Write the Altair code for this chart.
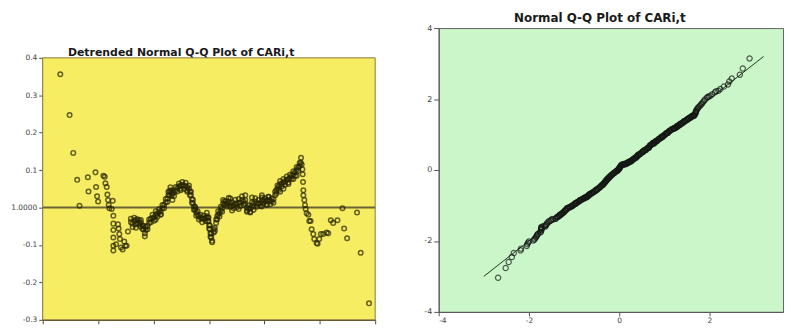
import altair as alt
import pandas as pd

obs_tail_low = [-2.683, -2.515, -2.449, -2.378, -2.336, -2.186, -2.174, -2.048, -2.037, -2.019,
                -2.001, -1.905, -1.881, -1.869, -1.845, -1.833, -1.821, -1.809, -1.797, -1.755,
                -1.737, -1.725, -1.725, -1.725, -1.725, -1.725, -1.725, -1.677, -1.642, -1.630,
                -1.618, -1.606, -1.588, -1.558, -1.528, -1.510, -1.486, -1.462]
dev_tail_low = [0.356, 0.247, 0.146, 0.074, 0.005, 0.081, 0.043, 0.094, 0.055, 0.030,
                0.016, 0.085, 0.082, 0.065, 0.055, 0.035, 0.020, 0.007, -0.002, -0.004,
                0.018, -0.022, -0.043, -0.060, -0.080, -0.102, -0.115, -0.098, -0.045, -0.056,
                -0.071, -0.084, -0.107, -0.112, -0.091, -0.102, -0.102, -0.064]

# centre of the dense band
obs_core = [-1.408, -1.378, -1.348, -1.318, -1.288, -1.259, -1.229, -1.199, -1.181, -1.157,
            -1.139, -1.109, -1.079, -1.049, -1.019, -0.989, -0.959, -0.929, -0.899, -0.870,
            -0.840, -0.810, -0.780, -0.750, -0.732, -0.714, -0.696, -0.678, -0.660, -0.630,
            -0.600, -0.570, -0.540, -0.510, -0.481, -0.451, -0.421, -0.391, -0.361, -0.343,
            -0.325, -0.307, -0.289, -0.271, -0.253, -0.229, -0.205, -0.181, -0.151, -0.122,
            -0.092, -0.062, -0.038, -0.020, -0.008, 0.004, 0.016, 0.028, 0.040, 0.058,
            0.088, 0.106, 0.130, 0.148, 0.166, 0.190, 0.214, 0.238, 0.256, 0.279,
            0.303, 0.327, 0.357, 0.387, 0.417, 0.447, 0.477, 0.507, 0.537, 0.567,
            0.597, 0.627, 0.656, 0.686, 0.716, 0.746, 0.776, 0.806, 0.836, 0.866,
            0.896, 0.926, 0.956, 0.986, 1.016, 1.045, 1.075, 1.105, 1.135, 1.165,
            1.195, 1.213, 1.237, 1.261, 1.285, 1.315, 1.345, 1.375, 1.404, 1.434,
            1.464, 1.494, 1.524, 1.554, 1.584, 1.614, 1.638, 1.656, 1.662]
dev_core = [-0.039, -0.043, -0.036, -0.045, -0.041, -0.035, -0.041, -0.048, -0.058, -0.069,
            -0.060, -0.049, -0.041, -0.030, -0.028, -0.026, -0.019, -0.015, -0.013, -0.009,
            -0.002, 0.007, 0.014, 0.024, 0.033, 0.042, 0.046, 0.040, 0.036, 0.040,
            0.046, 0.052, 0.056, 0.059, 0.060, 0.059, 0.057, 0.055, 0.050, 0.042,
            0.033, 0.022, 0.011, 0.003, -0.006, -0.013, -0.019, -0.023, -0.028, -0.030,
            -0.030, -0.027, -0.023, -0.028, -0.036, -0.047, -0.058, -0.069, -0.080, -0.089,
            -0.067, -0.054, -0.041, -0.023, -0.019, -0.015, -0.008, -0.002, 0.011, 0.016,
            0.007, 0.011, 0.016, 0.011, 0.004, 0.007, 0.011, 0.010, 0.013, 0.013,
            0.020, 0.016, 0.010, 0.001, -0.004, -0.002, 0.004, 0.011, 0.016, 0.011,
            0.010, 0.013, 0.018, 0.020, 0.016, 0.018, 0.020, 0.018, 0.016, 0.022,
            0.033, 0.046, 0.050, 0.056, 0.062, 0.065, 0.067, 0.070, 0.074, 0.076,
            0.079, 0.085, 0.089, 0.094, 0.100, 0.107, 0.111, 0.120, 0.133]

# upper edge of the dense band
obs_band_up = [-1.408, -1.348, -1.288, -1.229, -1.181, -1.139, -1.079, -1.019, -0.959, -0.899,
               -0.840, -0.780, -0.732, -0.696, -0.660, -0.600, -0.540, -0.481, -0.421, -0.361,
               -0.325, -0.289, -0.253, -0.205, -0.151, -0.092, -0.038, -0.008, 0.016, 0.040,
               0.088, 0.130, 0.166, 0.214, 0.256, 0.303, 0.357, 0.417, 0.477, 0.537,
               0.597, 0.656, 0.716, 0.776, 0.836, 0.896, 0.956, 1.016, 1.075, 1.135,
               1.195, 1.237, 1.285, 1.345, 1.404, 1.464, 1.524, 1.584, 1.638]
dev_band_up = [-0.030, -0.027, -0.031, -0.033, -0.049, -0.052, -0.032, -0.019, -0.010, -0.004,
               0.007, 0.023, 0.042, 0.054, 0.045, 0.055, 0.064, 0.068, 0.066, 0.059,
               0.043, 0.021, 0.003, -0.010, -0.019, -0.021, -0.014, -0.026, -0.048, -0.070,
               -0.058, -0.032, -0.010, 0.002, 0.020, 0.017, 0.026, 0.014, 0.021, 0.023,
               0.030, 0.020, 0.006, 0.014, 0.025, 0.020, 0.027, 0.025, 0.029, 0.025,
               0.042, 0.059, 0.071, 0.076, 0.083, 0.088, 0.097, 0.108, 0.119]

# lower edge of the dense band
obs_band_low = [-1.378, -1.318, -1.259, -1.199, -1.157, -1.109, -1.049, -0.989, -0.929, -0.870,
                -0.810, -0.750, -0.714, -0.678, -0.630, -0.570, -0.510, -0.451, -0.391, -0.343,
                -0.307, -0.271, -0.229, -0.181, -0.122, -0.062, -0.020, 0.004, 0.028, 0.058,
                0.106, 0.148, 0.190, 0.238, 0.279, 0.327, 0.387, 0.447, 0.507, 0.567,
                0.627, 0.686, 0.746, 0.806, 0.866, 0.926, 0.986, 1.045, 1.105, 1.165,
                1.213, 1.261, 1.315, 1.375, 1.434, 1.494, 1.554, 1.614]
dev_band_low = [-0.052, -0.054, -0.044, -0.057, -0.077, -0.058, -0.039, -0.035, -0.024, -0.018,
                -0.002, 0.015, 0.033, 0.031, 0.031, 0.043, 0.050, 0.050, 0.046, 0.033,
                0.013, -0.006, -0.022, -0.032, -0.039, -0.036, -0.037, -0.056, -0.078, -0.093,
                -0.063, -0.032, -0.024, -0.011, 0.007, 0.002, 0.002, -0.002, 0.001, 0.004,
                0.007, -0.008, -0.011, 0.002, 0.002, 0.004, 0.011, 0.009, 0.009, 0.013,
                0.037, 0.047, 0.056, 0.061, 0.067, 0.076, 0.085, 0.098]

# scattered points around the band
obs_spread = [0.417, 0.537, 0.686, 0.746, 0.806, 0.956, 1.045, 0.387, 0.656, 0.776,
              0.956, 1.075, 1.285, 1.345, 1.434, 1.524, 1.584, -0.660, -0.510, -0.391,
              -0.241, -1.318, -1.229, -0.959, -0.870]
dev_spread = [-0.008, -0.004, -0.011, -0.013, -0.006, 0.003, 0.007, 0.024, 0.033, 0.027,
              0.033, 0.029, 0.042, 0.050, 0.063, 0.076, 0.085, 0.020, 0.046, 0.042,
              -0.002, -0.032, -0.051, -0.032, -0.019]

obs_tail_high = [1.674, 1.686, 1.692, 1.698, 1.704, 1.704, 1.722, 1.734, 1.746, 1.764,
                 1.794, 1.811, 1.835, 1.853, 1.883, 1.901, 1.943, 1.961, 1.991, 2.021,
                 2.063, 2.123, 2.153, 2.200, 2.242, 2.320, 2.410, 2.440, 2.494, 2.673,
                 2.739, 2.889]
dev_tail_high = [0.115, 0.102, 0.089, 0.068, 0.046, 0.033, 0.020, 0.007, -0.004, -0.015,
                 -0.019, -0.036, -0.036, -0.058, -0.071, -0.084, -0.095, -0.097, -0.084, -0.071,
                 -0.071, -0.067, -0.069, -0.034, -0.041, -0.034, -0.002, -0.056, -0.082, -0.013,
                 -0.121, -0.256]

# reference line of the Q-Q plot
fit_x = [-3.0, 3.2]
fit_y = [-3.0, 3.2]

# axis ticks
left_x_ticks = [-3, -2, -1, 0, 1, 2, 3]
left_y_ticks = [-0.3, -0.2, -0.1, 0.0, 0.1, 0.2, 0.3, 0.4]
right_x_ticks = [-4, -2, 0, 2]
right_y_ticks = [-4, -2, 0, 2, 4]

obs = obs_tail_low + obs_core + obs_band_up + obs_band_low + obs_spread + obs_tail_high
dev = dev_tail_low + dev_core + dev_band_up + dev_band_low + dev_spread + dev_tail_high
df = pd.DataFrame({"observed": obs, "deviation": dev})
# expected normal value = observed value - deviation (definition of the detrended plot)
df["expected"] = df["observed"] - df["deviation"]

fit_df = pd.DataFrame({"x": fit_x, "y": fit_y})
bg_df = pd.DataFrame({"x": [left_x_ticks[0]], "x2": [left_x_ticks[-1]],
                      "y": [left_y_ticks[0]], "y2": [left_y_ticks[-1]]})

YELLOW = "#f6ed63"
GREEN = "#cbf6ca"
FONT = "DejaVu Sans"

# ---- left: detrended plot ----
xs_l = alt.Scale(domain=[-3, 3], nice=False, zero=False)
ys_l = alt.Scale(domain=[-0.3, 0.4], range=[294, 30], nice=False, zero=False)
ax_lx = alt.Axis(values=left_x_ticks, labels=False, tickSize=4, title="", grid=False,
                 domainColor="#5a4b25", tickColor="#5a4b25", domainWidth=1.5)
ax_ly = alt.Axis(values=left_y_ticks, tickSize=4, title="", grid=False,
                 labelExpr="datum.value == 0 ? '1.0000' : (datum.value < 0 ? '-' + format(-datum.value, '.1f') : format(datum.value, '.1f'))",
                 labelFontSize=7.5, labelColor="#444", labelPadding=2, minExtent=34, maxExtent=34,
                 domainColor="#5a4b25", tickColor="#5a4b25", domainWidth=1.5)

bg = alt.Chart(bg_df).mark_rect(fill=YELLOW, stroke="#8a7a40", strokeWidth=1).encode(
    x=alt.X("x:Q", scale=xs_l, axis=ax_lx), x2="x2:Q",
    y=alt.Y("y:Q", scale=ys_l, axis=ax_ly), y2="y2:Q")
zero_rule = alt.Chart(bg_df).mark_rule(color="#6a6535", strokeWidth=2).encode(
    y=alt.Y(datum=0, type="quantitative", scale=ys_l, axis=ax_ly))
pts_l = alt.Chart(df).mark_point(shape="circle", filled=False, size=21, strokeWidth=1.5,
                                 color="#262404").encode(
    x=alt.X("observed:Q", scale=xs_l, axis=ax_lx),
    y=alt.Y("deviation:Q", scale=ys_l, axis=ax_ly))

left = alt.layer(bg, zero_rule, pts_l).properties(
    width=335, height=294,
    view=alt.ViewBackground(stroke="transparent", fill="transparent"),
    title=alt.TitleParams("Detrended Normal Q-Q Plot of CARi,t", font=FONT, fontSize=11,
                          fontWeight="bold", color="#1a1a1a", anchor="middle", frame="group",
                          dx=-28, dy=33, offset=3))

# ---- right: normal Q-Q plot ----
xs_r = alt.Scale(domain=[-4, 3.63], nice=False, zero=False)
ys_r = alt.Scale(domain=[-4, 4], nice=False, zero=False)
ax_rx = alt.Axis(values=right_x_ticks, tickSize=4, title="", grid=False,
                 labelExpr="'' + datum.value", labelFontSize=7.5, labelColor="#444",
                 labelPadding=1, domainColor="#555", tickColor="#555")
ax_ry = alt.Axis(values=right_y_ticks, tickSize=5, title="", grid=False,
                 labelExpr="'' + datum.value", labelFontSize=8, labelColor="#444",
                 labelPadding=2, minExtent=14, maxExtent=14,
                 domainColor="#555", tickColor="#555")

pts_r = alt.Chart(df).mark_point(shape="circle", filled=False, size=28, strokeWidth=1.2,
                                 color="#151815").encode(
    x=alt.X("observed:Q", scale=xs_r, axis=ax_rx),
    y=alt.Y("expected:Q", scale=ys_r, axis=ax_ry))
fit_line = alt.Chart(fit_df).mark_line(color="#1d3a1d", strokeWidth=1).encode(
    x=alt.X("x:Q", scale=xs_r, axis=ax_rx),
    y=alt.Y("y:Q", scale=ys_r, axis=ax_ry))

right = alt.layer(fit_line, pts_r).properties(
    width=347, height=286,
    view=alt.ViewBackground(fill=GREEN, stroke="#666", strokeWidth=1),
    title=alt.TitleParams("Normal Q-Q Plot of CARi,t", font=FONT, fontSize=12,
                          fontWeight="bold", color="#1a1a1a", anchor="middle", frame="group",
                          dx=-11, offset=-1))

chart = alt.hconcat(left, right, spacing=46).properties(
    padding={"left": 0, "top": 2, "right": 0, "bottom": 0},
    background="white",
).configure_axis(labelFont=FONT)

chart.save("out.html", embed_options={"renderer": "svg", "actions": False})
